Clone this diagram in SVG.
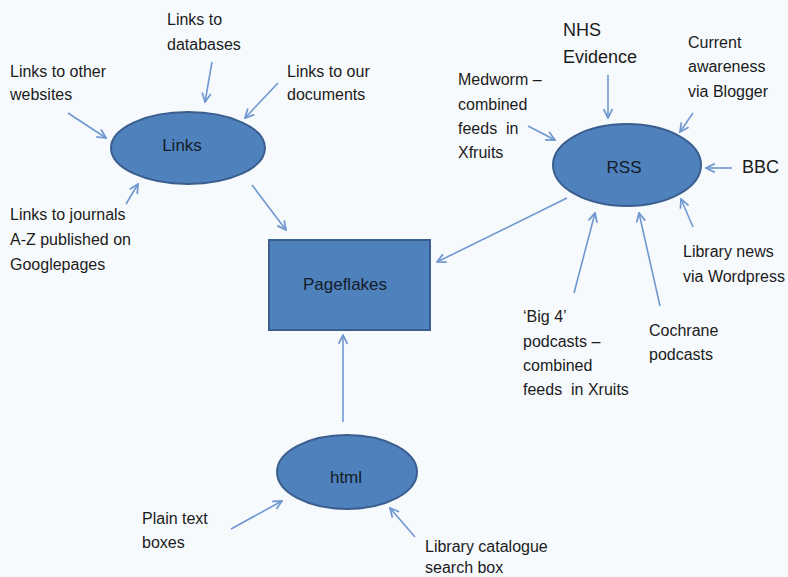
<svg xmlns="http://www.w3.org/2000/svg" width="788" height="577" viewBox="0 0 788 577">
<defs>
<marker id="ah" viewBox="0 0 10 10" markerWidth="11" markerHeight="11" refX="9" refY="5" orient="auto" markerUnits="userSpaceOnUse">
<path d="M1,1 L9,5 L1,9" fill="none" stroke="#6f98d0" stroke-width="1.6"/>
</marker>
</defs>
<style>
.t{font-family:"Liberation Sans",Arial,sans-serif;font-size:16px;fill:#1b1b1b}
.big{font-size:18px}
.node{fill:#4f81bd;stroke:#3a5f8e;stroke-width:2}
.lbl{font-family:"Liberation Sans",Arial,sans-serif;font-size:17px;fill:#141c28;text-anchor:middle}
.c{stroke:#6f98d0;stroke-width:1.6;fill:none;marker-end:url(#ah)}
</style>
<rect width="788" height="577" fill="#f7fafd"/>
<g id="connectors">
<line class="c" x1="68" y1="113" x2="106" y2="138"/>
<line class="c" x1="212" y1="62" x2="205" y2="102"/>
<line class="c" x1="278" y1="83" x2="245" y2="118"/>
<line class="c" x1="126" y1="204" x2="138" y2="184"/>
<line class="c" x1="252" y1="185" x2="286" y2="230"/>
<line class="c" x1="608" y1="75" x2="608" y2="118"/>
<line class="c" x1="528" y1="126" x2="555" y2="140"/>
<line class="c" x1="693" y1="113" x2="680" y2="132"/>
<line class="c" x1="732" y1="168" x2="706" y2="168"/>
<line class="c" x1="693" y1="227" x2="681" y2="199"/>
<line class="c" x1="574" y1="293" x2="595" y2="213"/>
<line class="c" x1="660" y1="306" x2="639" y2="213"/>
<line class="c" x1="567" y1="198" x2="437" y2="262"/>
<line class="c" x1="343" y1="422" x2="343" y2="335"/>
<line class="c" x1="231" y1="529" x2="282" y2="501"/>
<line class="c" x1="415" y1="537" x2="390" y2="508"/>
</g>
<g id="links">
<ellipse class="node" cx="188" cy="148" rx="77" ry="36"/>
<text class="lbl big" x="182" y="151">Links</text>
</g>
<g id="pageflakes">
<rect class="node" x="269" y="240" width="161" height="90"/>
<text class="lbl big" x="345" y="290">Pageflakes</text>
</g>
<g id="rss">
<ellipse class="node" cx="627" cy="165" rx="74" ry="41"/>
<text class="lbl big" x="624" y="173">RSS</text>
</g>
<g id="html">
<ellipse class="node" cx="347" cy="472" rx="70" ry="37"/>
<text class="lbl big" x="346" y="483">html</text>
</g>
<g id="links-other">
<text class="t" x="10" y="77">Links to other</text>
<text class="t" x="10" y="100">websites</text>
</g>
<g id="links-databases">
<text class="t" x="167" y="25">Links to</text>
<text class="t" x="167" y="50">databases</text>
</g>
<g id="links-documents">
<text class="t" x="287" y="77">Links to our</text>
<text class="t" x="287" y="100">documents</text>
</g>
<g id="links-journals">
<text class="t" x="10" y="220">Links to journals</text>
<text class="t" x="10" y="245">A-Z published on</text>
<text class="t" x="10" y="270">Googlepages</text>
</g>
<g id="nhs">
<text class="t big" x="563" y="36">NHS</text>
<text class="t big" x="563" y="63">Evidence</text>
</g>
<g id="medworm">
<text class="t" x="458" y="85">Medworm –</text>
<text class="t" x="458" y="110">combined</text>
<text class="t" x="458" y="134" xml:space="preserve">feeds  in</text>
<text class="t" x="458" y="158">Xfruits</text>
</g>
<g id="current">
<text class="t" x="688" y="48">Current</text>
<text class="t" x="688" y="72">awareness</text>
<text class="t" x="688" y="97">via Blogger</text>
</g>
<g id="bbc">
<text class="t big" x="742" y="173">BBC</text>
</g>
<g id="library-news">
<text class="t" x="683" y="257">Library news</text>
<text class="t" x="683" y="282">via Wordpress</text>
</g>
<g id="big4">
<text class="t" x="523" y="322">‘Big 4’</text>
<text class="t" x="523" y="347">podcasts –</text>
<text class="t" x="523" y="371">combined</text>
<text class="t" x="523" y="395" xml:space="preserve">feeds  in Xruits</text>
</g>
<g id="cochrane">
<text class="t" x="649" y="336">Cochrane</text>
<text class="t" x="649" y="360">podcasts</text>
</g>
<g id="plain-text">
<text class="t" x="142" y="524">Plain text</text>
<text class="t" x="142" y="548">boxes</text>
</g>
<g id="catalogue">
<text class="t" x="425" y="552">Library catalogue</text>
<text class="t" x="425" y="573">search box</text>
</g>
</svg>
